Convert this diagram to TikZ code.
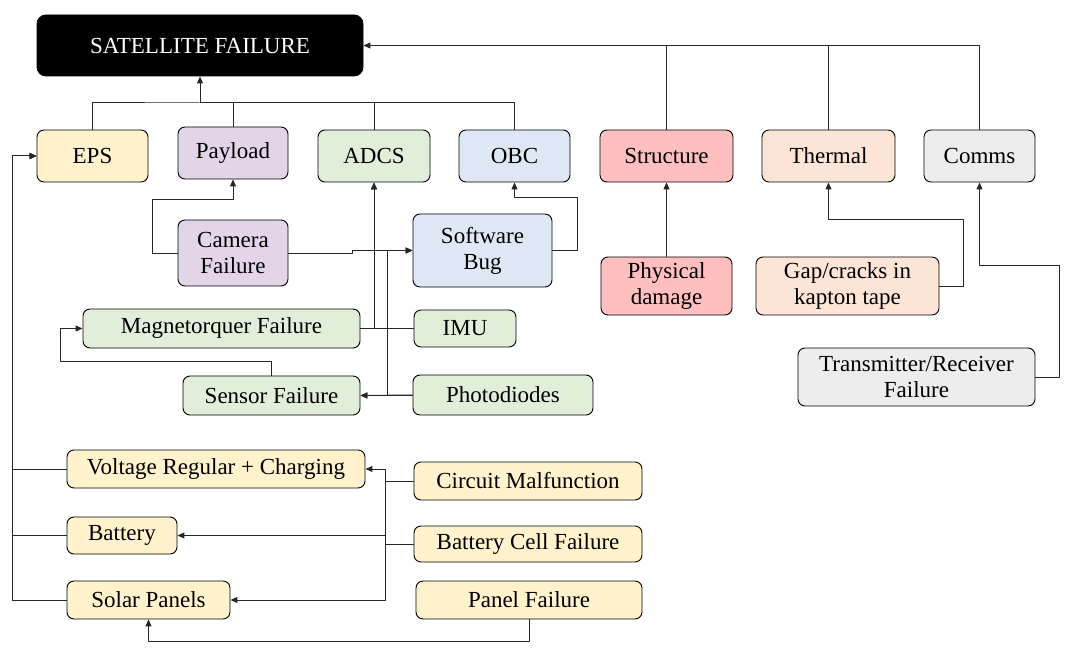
\documentclass[tikz,border=0pt]{standalone}
\usepackage{fontspec}
\setmainfont{Liberation Serif}
\usetikzlibrary{arrows.meta}
\definecolor{epsyellow}{HTML}{FFF2CC}
\definecolor{paypurple}{HTML}{E1D5E7}
\definecolor{adcsgreen}{HTML}{E1EEDA}
\definecolor{obcblue}{HTML}{DEE8F5}
\definecolor{strred}{HTML}{FFBFBF}
\definecolor{thmpeach}{HTML}{FCE5D6}
\definecolor{comgray}{HTML}{EDEDED}
\begin{document}
\begin{tikzpicture}[x=1pt, y=-1pt, line join=round, >={Triangle[length=7pt,width=6pt]},
	box/.style={draw, line width=0.9pt, rounded corners=7pt, align=center, inner sep=0pt,
		font=\fontsize{23}{26}\selectfont},
	link/.style={line width=1pt, draw=black!85}]
	\useasboundingbox (0,0) rectangle (1068,663);
	% top level
	\node[box, fill=black, text=white, rounded corners=9pt, minimum width=326pt, minimum height=61pt] (sat) at (200,45.5) {SATELLITE FAILURE};
	\node[box, fill=epsyellow, minimum width=111pt, minimum height=52pt] (eps) at (92.5,156) {EPS};
	\node[box, fill=paypurple, minimum width=110pt, minimum height=52pt] (pay) at (233,153) {Payload};
	\node[box, fill=adcsgreen, minimum width=112pt, minimum height=52pt] (adcs) at (374,156) {ADCS};
	\node[box, fill=obcblue, minimum width=111pt, minimum height=52pt] (obc) at (514.5,156) {OBC};
	\node[box, fill=strred, minimum width=133pt, minimum height=52pt] (str) at (666.5,156) {Structure};
	\node[box, fill=thmpeach, minimum width=133pt, minimum height=52pt] (thm) at (828.5,156) {Thermal};
	\node[box, fill=comgray, minimum width=111pt, minimum height=52pt] (com) at (979.5,156) {Comms};
	% failures
	\node[box, fill=paypurple, minimum width=110pt, minimum height=66pt] (cam) at (233,253) {Camera\\Failure};
	\node[box, fill=obcblue, minimum width=139pt, minimum height=73pt] (sw) at (482.5,250.5) {Software\\Bug};
	\node[box, fill=strred, minimum width=131pt, minimum height=58pt] (phy) at (666.5,286) {Physical\\damage};
	\node[box, fill=thmpeach, minimum width=183pt, minimum height=58pt] (gap) at (847.5,286) {Gap/cracks in\\kapton tape};
	\node[box, fill=comgray, minimum width=237pt, minimum height=58pt] (trx) at (916.5,377) {Transmitter/Receiver\\Failure};
	\node[box, fill=adcsgreen, minimum width=277pt, minimum height=39pt] (mag) at (221.5,328.5) {Magnetorquer Failure};
	\node[box, fill=adcsgreen, minimum width=102pt, minimum height=37pt] (imu) at (465,328.5) {IMU};
	\node[box, fill=adcsgreen, minimum width=177pt, minimum height=39pt] (sen) at (271.5,395.5) {Sensor Failure};
	\node[box, fill=adcsgreen, minimum width=180pt, minimum height=40pt] (pho) at (503,395) {Photodiodes};
	\node[box, fill=epsyellow, minimum width=298pt, minimum height=38pt] (vol) at (216,469) {Voltage Regular + Charging};
	\node[box, fill=epsyellow, minimum width=228pt, minimum height=38pt] (cir) at (528,481) {Circuit Malfunction};
	\node[box, fill=epsyellow, minimum width=110pt, minimum height=37pt] (bat) at (122,535.5) {Battery};
	\node[box, fill=epsyellow, minimum width=228pt, minimum height=36pt] (bcf) at (528,544) {Battery Cell Failure};
	\node[box, fill=epsyellow, minimum width=163pt, minimum height=38pt] (sol) at (148.5,600) {Solar Panels};
	\node[box, fill=epsyellow, minimum width=226pt, minimum height=38pt] (pan) at (529,600) {Panel Failure};
	% subsystems to satellite failure
	\coordinate (bus) at (200,103);
	\draw[link] (eps.north) |- (bus) -| (obc.north);
	\draw[link] (pay.north) |- (bus);
	\draw[link] (adcs.north) |- (bus);
	\draw[link,->] (bus) -- (sat.south);
	\draw[link,->] (com.north) |- (sat.east);
	\draw[link] (str.north) -- (str.north |- sat.east);
	\draw[link] (thm.north) -- (thm.north |- sat.east);
	% payload, obc, adcs
	\draw[link,->] (cam.west) -- ++(-25,0) -- ++(0,-53) -| (pay.south);
	\draw[link,->] (cam.east) -- ++(64,0) |- (sw.west);
	\draw[link,->] (sw.east) -- ++(25,0) -- ++(0,-52.5) -| (obc.south);
	\draw[link,->] (mag.east) -| (adcs.south);
	\draw[link,->] (imu.west) -| (adcs.south);
	\draw[link,->] (imu.west) -- ++(-26,0) |- (sen.east);
	\draw[link,->] (pho.west) -- (sen.east);
	\draw[link,->] (pho.west) -- ++(-25,0) |- (sw.west);
	\draw[link,->] (sen.north) |- ++(-211,-14) |- (mag.west);
	% eps
	\draw[link,->] (vol.west) -- ++(-54,0) |- (eps.west);
	\draw[link,->] (bat.west) -- ++(-54,0) |- (eps.west);
	\draw[link,->] (sol.west) -- ++(-54,0) |- (eps.west);
	\draw[link,->] (cir.west) -- ++(-28,0) |- (vol.east);
	\draw[link,->] (cir.west) -- ++(-28,0) |- (sol.east);
	\draw[link,->] (bcf.west) -- ++(-28,0) |- (bat.east);
	\draw[link,->] (pan.south) -- ++(0,22) -| (sol.south);
	% structure, thermal, comms
	\draw[link,->] (phy.north) -- (str.south);
	\draw[link,->] (gap.east) -- ++(24,0) -- ++(0,-66) -| (thm.south);
	\draw[link,->] (trx.east) -- ++(24,0) -- ++(0,-112) -| (com.south);
\end{tikzpicture}
\end{document}
